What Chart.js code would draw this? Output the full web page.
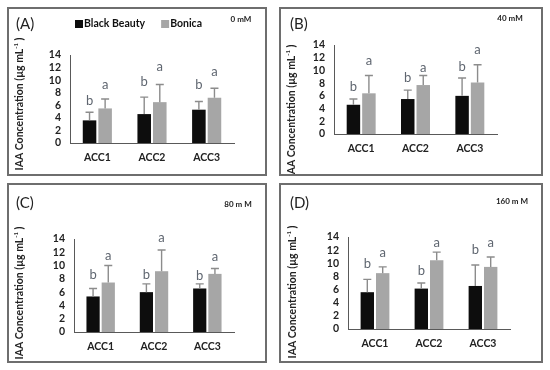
<!DOCTYPE html>
<html>
<head>
<meta charset="utf-8">
<title>IAA concentration</title>
<script src="https://cdn.jsdelivr.net/npm/chart.js@4.4.0/dist/chart.umd.min.js"></script>
<style>
    html, body { margin: 0; padding: 0; background: #fff; }
    #page { position: relative; width: 550px; height: 370px; overflow: hidden; }
    #page canvas { position: absolute; }
    .frame { position: absolute; box-sizing: border-box; border: 2px solid #6e6e6e; pointer-events: none; }
</style>
</head>
<body>
<div id="page"></div>
<script>
// --- data ---------------------------------------------------------------
const categories = ['ACC1', 'ACC2', 'ACC3'];
const seriesNames = ['Black Beauty', 'Bonica'];
const panelTags = ['(A)', '(B)', '(C)', '(D)'];
const saltLevels = ['0 mM', '40 mM', '80 m M', '160 m M'];
const yMin = 0;
const yMax = 14;
const yStep = 2;

// means
const blackMeans = [
    [3.6, 4.6, 5.3],
    [4.6, 5.5, 6.0],
    [5.35, 6.0, 6.55],
    [5.6, 6.15, 6.55]
];
const bonicaMeans = [
    [5.5, 6.5, 7.2],
    [6.4, 7.7, 8.1],
    [7.45, 9.15, 8.75],
    [8.5, 10.45, 9.45]
];

// upper error bars (SD)
const blackErrors = [
    [1.3, 2.7, 1.3],
    [0.9, 1.4, 2.8],
    [1.2, 1.25, 0.7],
    [1.95, 0.85, 3.2]
];
const bonicaErrors = [
    [1.5, 2.8, 1.5],
    [2.8, 1.5, 2.8],
    [2.55, 3.2, 0.8],
    [0.95, 1.25, 1.5]
];

// significance letters and the value at which each one sits
const blackLetters = ['b', 'b', 'b'];
const bonicaLetters = ['a', 'a', 'a'];
const blackLetterAt = [
    [6.7, 9.8, 9.2],
    [7.4, 8.9, 10.6],
    [8.6, 8.65, 8.4],
    [9.85, 8.85, 12.05]
];
const bonicaLetterAt = [
    [9.2, 12.2, 11.4],
    [11.5, 10.4, 13.2],
    [11.4, 14.25, 11.25],
    [11.65, 13.05, 13.15]
];

// --- layout (page pixels) -----------------------------------------------
const FONT = 'Lato, "Open Sans", sans-serif';
const panelLayout = [
    { frame: [7, 7, 260, 169],   area: [70, 55, 234, 143],  tag: [16, 24], salt: [241, 19], yTitle: [20, 104], legend: [75, 24] },
    { frame: [279, 7, 264, 169], area: [334, 45, 497, 134], tag: [290, 24], salt: [510, 18], yTitle: [292, 111] },
    { frame: [7, 183, 260, 180], area: [74, 239, 234, 332], tag: [16, 203], salt: [238, 204], yTitle: [20, 293] },
    { frame: [279, 183, 264, 180], area: [348, 237, 510, 329], tag: [290, 203], salt: [512, 201], yTitle: [293, 292] }
];

/**
 * Error bars, letters, panel texts, y title and legend
 */
const panelDecor = {
    id: 'panelDecor',
    afterDatasetsDraw(chart) {
        const ctx = chart.ctx;
        const yScale = chart.scales.y;
        ctx.save();
        chart.data.datasets.forEach((ds, di) => {
            const meta = chart.getDatasetMeta(di);
            meta.data.forEach((bar, i) => {
                const top = yScale.getPixelForValue(ds.data[i] + ds.errors[i]);
                ctx.strokeStyle = '#8c8c8c';
                ctx.lineWidth = 1.4;
                ctx.beginPath();
                ctx.moveTo(bar.x, bar.y);
                ctx.lineTo(bar.x, top);
                ctx.moveTo(bar.x - 4, top);
                ctx.lineTo(bar.x + 4, top);
                ctx.stroke();

                ctx.fillStyle = '#5f6670';
                ctx.font = '13px ' + FONT;
                ctx.textAlign = 'center';
                ctx.textBaseline = 'middle';
                ctx.fillText(ds.letters[i], bar.x, yScale.getPixelForValue(ds.letterAt[i]));
            });
        });
        ctx.restore();
    },
    afterDraw(chart, args, opts) {
        const ctx = chart.ctx;
        const L = opts.layout;
        const ox = L.frame[0], oy = L.frame[1];
        ctx.save();
        ctx.textBaseline = 'middle';

        // panel tag
        ctx.fillStyle = '#222';
        ctx.font = '15px ' + FONT;
        ctx.textAlign = 'left';
        ctx.fillText(opts.tag, L.tag[0] - ox, L.tag[1] - oy);

        // salt level
        ctx.font = 'bold 8px ' + FONT;
        ctx.textAlign = 'center';
        ctx.fillText(opts.salt, L.salt[0] - ox, L.salt[1] - oy);

        // y axis title with superscript
        ctx.translate(L.yTitle[0] - ox, L.yTitle[1] - oy);
        ctx.rotate(-Math.PI / 2);
        const main = 'IAA Concentration (µg mL';
        const sup = '-1';
        const tail = ' )';
        ctx.font = 'bold 10.5px ' + FONT;
        const wMain = ctx.measureText(main).width;
        const wTail = ctx.measureText(tail).width;
        ctx.font = 'bold 6px ' + FONT;
        const wSup = ctx.measureText(sup).width;
        let x = -(wMain + wSup + wTail) / 2;
        ctx.textAlign = 'left';
        ctx.fillStyle = '#222';
        ctx.font = 'bold 10.5px ' + FONT;
        ctx.fillText(main, x, 0);
        x += wMain;
        ctx.font = 'bold 6px ' + FONT;
        ctx.fillText(sup, x, -4);
        x += wSup;
        ctx.font = 'bold 10.5px ' + FONT;
        ctx.fillText(tail, x, 0);
        ctx.setTransform(1, 0, 0, 1, 0, 0);

        // legend (panel A only)
        if (L.legend) {
            let lx = L.legend[0] - ox;
            const ly = L.legend[1] - oy;
            ctx.font = 'bold 10.5px ' + FONT;
            ctx.textAlign = 'left';
            chart.data.datasets.forEach(ds => {
                ctx.fillStyle = ds.backgroundColor;
                ctx.fillRect(lx, ly - 4, 8, 8);
                ctx.fillStyle = '#111';
                ctx.fillText(ds.label, lx + 9, ly);
                lx += 9 + ctx.measureText(ds.label).width + 16;
            });
        }
        ctx.restore();
    }
};

function buildPanel(p) {
    const L = panelLayout[p];
    const [fx, fy, fw, fh] = L.frame;
    const [ax0, ay0, ax1, ay1] = L.area;
    const page = document.getElementById('page');

    const canvas = document.createElement('canvas');
    canvas.width = fw;
    canvas.height = fh;
    canvas.style.left = fx + 'px';
    canvas.style.top = fy + 'px';
    page.appendChild(canvas);

    const frame = document.createElement('div');
    frame.className = 'frame';
    frame.style.left = fx + 'px';
    frame.style.top = fy + 'px';
    frame.style.width = fw + 'px';
    frame.style.height = fh + 'px';
    page.appendChild(frame);

    const yWidth = ax0 - fx;
    const xHeight = fy + fh - ay1;

    return new Chart(canvas.getContext('2d'), {
        type: 'bar',
        data: {
            labels: categories,
            datasets: [
                {
                    label: seriesNames[0],
                    data: blackMeans[p],
                    errors: blackErrors[p],
                    letters: blackLetters,
                    letterAt: blackLetterAt[p],
                    backgroundColor: '#0d0d0d'
                },
                {
                    label: seriesNames[1],
                    data: bonicaMeans[p],
                    errors: bonicaErrors[p],
                    letters: bonicaLetters,
                    letterAt: bonicaLetterAt[p],
                    backgroundColor: '#a6a6a6'
                }
            ]
        },
        options: {
            responsive: false,
            animation: false,
            devicePixelRatio: 1,
            categoryPercentage: 0.57,
            barPercentage: 0.87,
            layout: {
                padding: { left: 0, top: ay0 - fy, right: fx + fw - ax1, bottom: 0 }
            },
            plugins: {
                legend: { display: false },
                tooltip: { enabled: false },
                panelDecor: {
                    layout: L,
                    tag: panelTags[p],
                    salt: saltLevels[p]
                }
            },
            scales: {
                x: {
                    grid: { display: false, drawTicks: false },
                    border: { display: true, color: '#595959', width: 1 },
                    ticks: { color: '#222', padding: 8, font: { family: FONT, size: 10.5, weight: 'bold' } },
                    afterFit(scale) { scale.height = xHeight; }
                },
                y: {
                    min: yMin,
                    max: yMax,
                    grid: { display: false, drawTicks: false },
                    border: { display: true, color: '#595959', width: 1 },
                    ticks: { stepSize: yStep, autoSkip: false, color: '#222', padding: 9, font: { family: FONT, size: 10.5, weight: 'bold' } },
                    afterFit(scale) { scale.width = yWidth; }
                }
            }
        },
        plugins: [panelDecor]
    });
}

panelLayout.forEach((_, p) => buildPanel(p));
</script>
</body>
</html>
